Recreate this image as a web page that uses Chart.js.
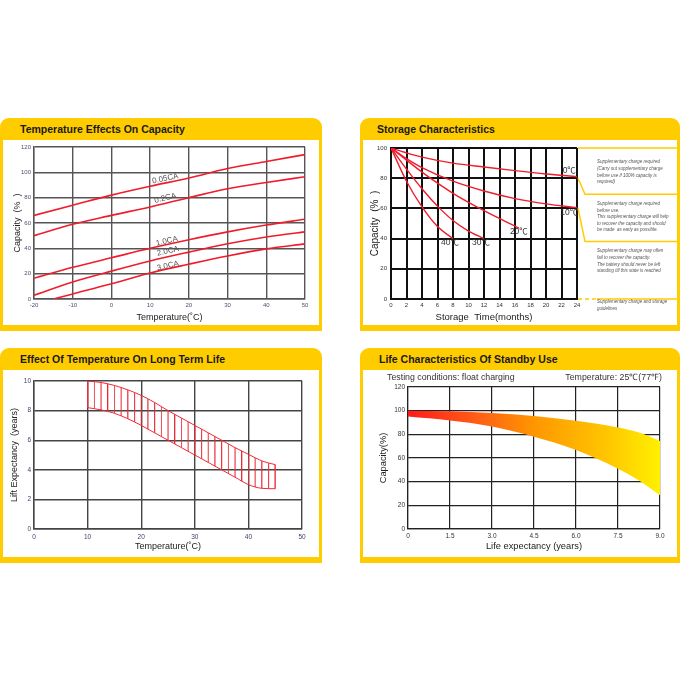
<!DOCTYPE html>
<html>
<head>
<meta charset="utf-8">
<script src="https://cdn.jsdelivr.net/npm/chart.js@4.4.1/dist/chart.umd.min.js"></script>
<style>
html, body { margin: 0; padding: 0; background: #fff; }
body { width: 680px; height: 680px; position: relative; overflow: hidden; font-family: "Liberation Sans", Arial, sans-serif; }
.panel { position: absolute; background: #FFCC00; border-radius: 9px 9px 0 0; }
.head { position: absolute; top: 0; height: 22px; line-height: 22px; font-weight: bold; font-size: 10.5px; color: #1a1a1a; white-space: nowrap; }
.box { position: absolute; left: 3px; top: 22px; background: #fff; }
.note { position: absolute; left: 597px; font-style: italic; font-size: 4.5px; line-height: 6.6px; color: #555; white-space: nowrap; }
.cond { position: absolute; top: 372px; font-size: 8.8px; line-height: 10px; color: #333; white-space: nowrap; }
</style>
</head>
<body>

<div class="panel" style="left:0;top:118px;width:322px;height:213px">
  <div class="head" style="left:20px">Temperature Effects On Capacity</div>
  <div class="box" style="width:316px;height:185px"><canvas id="chart-capacity"></canvas></div>
</div>

<div class="panel" style="left:360px;top:118px;width:320px;height:213px">
  <div class="head" style="left:17px">Storage Characteristics</div>
  <div class="box" style="width:314px;height:185px"><canvas id="chart-storage"></canvas></div>
</div>

<div class="panel" style="left:0;top:348px;width:322px;height:215px">
  <div class="head" style="left:20px">Effect Of Temperature On Long Term Life</div>
  <div class="box" style="width:316px;height:187px"><canvas id="chart-life"></canvas></div>
</div>

<div class="panel" style="left:360px;top:348px;width:320px;height:215px">
  <div class="head" style="left:19px">Life Characteristics Of Standby Use</div>
  <div class="box" style="width:314px;height:187px"><canvas id="chart-standby"></canvas></div>
</div>

<div class="note" style="top:159.4px">Supplementary charge required<br>(Carry out supplementary charge<br>before use if 100% capacity is<br>required)</div>
<div class="note" style="top:201px">Supplementary charge required<br>before use.<br>This supplementary charge will help<br>to recover the capacity and should<br>be made&nbsp; as early as possible.</div>
<div class="note" style="top:248.4px">Supplementary charge may often<br>fail to recover the capacity.<br>The battery should never be left<br>standing till this state is reached</div>
<div class="note" style="top:299.4px">Supplementary charge and storage<br>guidelines</div>

<div class="cond" style="left:387px">Testing conditions: float charging</div>
<div class="cond" style="right:18px">Temperature: 25℃(77℉)</div>

<script>
// Temperature Effects On Capacity
const tempX = [-20, -10, 0, 10, 20, 30, 40, 50];
const tempX3CA = [-15, -10, 0, 10, 20, 30, 40, 50];
const cap005CA = [66, 74, 82, 89, 95.5, 103, 108.6, 114];
const cap02CA = [50, 59, 66, 72.7, 80, 87, 92, 96.5];
const cap1CA = [16.4, 25, 32.5, 40, 46.8, 53, 58.4, 63];
const cap2CA = [3, 13.5, 22, 30, 37, 43.6, 49, 53];
const cap3CA = [0, 4, 12, 20.6, 27.5, 34, 39.6, 43.5];
const rateLabels = ['0.05CA', '0.2CA', '1.0CA', '2.0CA', '3.0CA'];
const rateLabelX = [13.9, 13.9, 14.3, 14.6, 14.6];
const rateLabelY = [95, 79.6, 45.7, 37.8, 26.2];

// Storage Characteristics
const months0C = [0, 2, 4, 8, 12, 16, 20, 24];
const cap0C = [100, 96.8, 94, 90, 87.4, 85, 82.8, 81];
const months10C = [0, 2, 4, 8, 12, 16, 20, 24];
const cap10C = [100, 93, 87, 78, 71.5, 66.5, 63, 60.5];
const months20C = [0, 2, 4, 8, 12, 16.5];
const cap20C = [100, 92, 84, 70, 58.5, 47];
const months30C = [0, 2, 4, 6, 8, 10, 12];
const cap30C = [100, 86, 73, 61.5, 52, 45, 40];
const months40C = [0, 2, 4, 6, 8];
const cap40C = [100, 78, 61, 48, 40];
const storeLabels = ['0℃', '10℃', '20℃', '30℃', '40℃'];
const storeLabelX = [23, 23, 16.5, 11.6, 7.6];
const storeLabelY = [84.8, 57, 44.6, 37, 37];

// Effect Of Temperature On Long Term Life
const lifeTemp = [10, 12.5, 15, 17.5, 20, 22.5, 25, 27.5, 30, 32.5, 35, 37.5, 40, 42.5, 45];
const lifeUpper = [10, 9.9, 9.7, 9.4, 9.03, 8.55, 8.0, 7.5, 7.0, 6.5, 6.0, 5.5, 5.05, 4.6, 4.35];
const lifeLower = [8.2, 8.05, 7.82, 7.45, 7.0, 6.5, 6.0, 5.5, 5.0, 4.5, 4.0, 3.5, 3.0, 2.75, 2.72];

// Life Characteristics Of Standby Use
const floatYears = [0, 1.5, 3, 4.5, 6, 7.5, 8.25, 9];
const floatUpper = [100, 99.6, 98, 95.4, 91.4, 85.8, 81.5, 74.4];
const floatLower = [95, 91.7, 86.6, 78, 66.8, 51, 41, 28.6];
const floatTicks = ['0', '1.5', '3.0', '4.5', '6.0', '7.5', '9.0'];

const FONT = '"Liberation Sans", Arial, sans-serif';
const RED = '#f01c2c';
Chart.defaults.font.family = FONT;
Chart.defaults.animation = false;

const pts = (xs, ys) => xs.map((x, i) => ({ x, y: ys[i] }));

function line(xs, ys, extra) {
    return Object.assign({
        data: pts(xs, ys),
        borderColor: RED,
        borderWidth: 1.6,
        pointRadius: 0,
        fill: false,
        cubicInterpolationMode: 'monotone'
    }, extra);
}

function axis(o) {
    return {
        type: 'linear',
        min: o.min,
        max: o.max,
        ticks: {
            stepSize: o.step,
            color: o.tickColor || '#333',
            font: { size: o.tickSize || 6 },
            padding: o.tickPad,
            autoSkip: false,
            maxRotation: 0,
            callback: o.callback
        },
        grid: { color: o.grid, lineWidth: o.gridWidth, drawTicks: false },
        border: { color: o.grid, width: o.gridWidth },
        title: {
            display: true,
            text: o.title,
            color: '#222',
            font: { size: o.titleSize || 9 },
            padding: o.titlePad
        },
        afterFit: s => {
            if (s.isHorizontal()) s.height = o.size;
            else s.width = o.size;
        }
    };
}

function baseOptions(padding, x, y) {
    return {
        responsive: true,
        maintainAspectRatio: false,
        layout: { padding },
        plugins: { legend: { display: false }, tooltip: { enabled: false } },
        scales: { x, y }
    };
}

// text along each capacity curve, rotated to the curve slope
const rateLabelPlugin = {
    id: 'rateLabels',
    afterDatasetsDraw(chart) {
        const { ctx, scales: { x, y } } = chart;
        ctx.save();
        ctx.font = '8px ' + FONT;
        ctx.fillStyle = '#555';
        ctx.textAlign = 'center';
        ctx.textBaseline = 'middle';
        rateLabels.forEach((t, i) => {
            const p = chart.getDatasetMeta(i).data;
            const a = Math.atan2(p[4].y - p[3].y, p[4].x - p[3].x);
            ctx.save();
            ctx.translate(x.getPixelForValue(rateLabelX[i]), y.getPixelForValue(rateLabelY[i]));
            ctx.rotate(a);
            ctx.fillText(t, 0, 0);
            ctx.restore();
        });
        ctx.restore();
    }
};

const storeLabelPlugin = {
    id: 'storeLabels',
    afterDatasetsDraw(chart) {
        const { ctx, scales: { x, y } } = chart;
        ctx.save();
        ctx.font = '8.5px ' + FONT + ', "Noto Sans CJK SC"';
        ctx.fillStyle = '#333';
        ctx.textAlign = 'center';
        ctx.textBaseline = 'middle';
        storeLabels.forEach((t, i) => {
            ctx.fillText(t, x.getPixelForValue(storeLabelX[i]), y.getPixelForValue(storeLabelY[i]));
        });
        ctx.restore();
    }
};

// yellow guide lines leading to the notes on the right
const guidePlugin = {
    id: 'guides',
    afterDraw(chart) {
        const { ctx, chartArea: a, scales: { y } } = chart;
        const w = chart.width;
        const y100 = y.getPixelForValue(100), y80 = y.getPixelForValue(80);
        const y60 = y.getPixelForValue(60), y0 = y.getPixelForValue(0);
        ctx.save();
        ctx.strokeStyle = '#FFCC00';
        ctx.lineWidth = 1.5;
        ctx.beginPath();
        ctx.moveTo(a.right + 1, y100); ctx.lineTo(w, y100);
        ctx.moveTo(a.right + 1, y80); ctx.lineTo(a.right + 8, y80 + 16); ctx.lineTo(w, y80 + 16);
        ctx.moveTo(a.right + 1, y60); ctx.lineTo(a.right + 8, y60 + 33); ctx.lineTo(w, y60 + 33);
        ctx.moveTo(a.right + 20, y0); ctx.lineTo(w, y0);
        ctx.stroke();
        ctx.setLineDash([4, 3]);
        ctx.beginPath();
        ctx.moveTo(a.right + 1, y0); ctx.lineTo(a.right + 20, y0);
        ctx.stroke();
        ctx.restore();
    }
};

// vertical hatching between the two life bounds
function hatch(chart) {
    const xs = chart.scales.x;
    if (!chart.chartArea || !xs) return 'rgba(0,0,0,0)';
    const x0 = xs.getPixelForValue(lifeTemp[0]);
    const x1 = xs.getPixelForValue(lifeTemp[lifeTemp.length - 1]);
    const step = (x1 - x0) / 28;
    const tile = document.createElement('canvas');
    tile.width = 10;
    tile.height = 10;
    const t = tile.getContext('2d');
    t.fillStyle = '#ec2a36';
    t.fillRect(0, 0, 1.6, 10);
    const pattern = chart.ctx.createPattern(tile, 'repeat');
    const s = step / 10;
    pattern.setTransform(new DOMMatrix().translateSelf(x0 - 0.8 * s, 0).scaleSelf(s, 1));
    return pattern;
}

function warmGradient(chart) {
    const xs = chart.scales.x;
    if (!chart.chartArea || !xs) return '#ff9900';
    const g = chart.ctx.createLinearGradient(
        xs.getPixelForValue(floatYears[0]), 0,
        xs.getPixelForValue(floatYears[floatYears.length - 1]), 0);
    g.addColorStop(0, '#ff1a1a');
    g.addColorStop(0.3, '#ff6414');
    g.addColorStop(0.5, '#ff9600');
    g.addColorStop(0.8, '#ffc800');
    g.addColorStop(1, '#fff000');
    return g;
}

new Chart(document.getElementById('chart-capacity'), {
    type: 'line',
    data: {
        datasets: [
            line(tempX, cap005CA),
            line(tempX, cap02CA),
            line(tempX, cap1CA),
            line(tempX, cap2CA),
            line(tempX3CA, cap3CA)
        ]
    },
    options: baseOptions({ top: 7, right: 14, left: 0, bottom: 0 },
        axis({ min: -20, max: 50, step: 10, grid: '#555', gridWidth: 1.4, tickColor: '#4a5070',
            tickPad: 3, title: 'Temperature(˚C)', titlePad: { top: 0, bottom: 2 }, size: 26 }),
        axis({ min: 0, max: 120, step: 20, grid: '#555', gridWidth: 1.4, tickColor: '#4a5070',
            tickPad: 3, title: 'Capacity  (%  )', titlePad: { top: 9, bottom: 0 }, size: 31 })),
    plugins: [rateLabelPlugin]
});

new Chart(document.getElementById('chart-storage'), {
    type: 'line',
    data: {
        datasets: [
            line(months0C, cap0C, { borderWidth: 1.4 }),
            line(months10C, cap10C, { borderWidth: 1.4 }),
            line(months20C, cap20C, { borderWidth: 1.4 }),
            line(months30C, cap30C, { borderWidth: 1.4 }),
            line(months40C, cap40C, { borderWidth: 1.4 })
        ]
    },
    options: baseOptions({ top: 8, right: 100, left: 0, bottom: 0 },
        axis({ min: 0, max: 24, step: 2, grid: '#111', gridWidth: 2, tickPad: 3,
            title: 'Storage  Time(months)', titleSize: 9.5, titlePad: { top: 0, bottom: 2 }, size: 26 }),
        axis({ min: 0, max: 100, step: 20, grid: '#111', gridWidth: 2, tickPad: 4,
            title: 'Capacity  (%  )', titleSize: 10, titlePad: { top: 6, bottom: 0 }, size: 28 })),
    plugins: [storeLabelPlugin, guidePlugin]
});

new Chart(document.getElementById('chart-life'), {
    type: 'line',
    data: {
        datasets: [
            line(lifeTemp, lifeUpper, { borderWidth: 1, borderColor: '#ee2a36', fill: '+1',
                backgroundColor: c => hatch(c.chart) }),
            line(lifeTemp, lifeLower, { borderWidth: 1, borderColor: '#ee2a36' }),
            line([10, 10], [lifeUpper[0], lifeLower[0]], { borderWidth: 1.2, borderColor: '#ee2a36' }),
            line([45, 45], [lifeUpper[14], lifeLower[14]], { borderWidth: 1.2, borderColor: '#ee2a36' })
        ]
    },
    options: baseOptions({ top: 11, right: 17, left: 0, bottom: 0 },
        axis({ min: 0, max: 50, step: 10, grid: '#444', gridWidth: 1.4, tickColor: '#3a4468',
            tickSize: 6.5, tickPad: 4, title: 'Temperature(˚C)', titlePad: { top: 0, bottom: 5 }, size: 28 }),
        axis({ min: 0, max: 10, step: 2, grid: '#444', gridWidth: 1.4, tickColor: '#3a4468',
            tickSize: 6.5, tickPad: 3, title: 'Lift Expectancy  (years)', titlePad: { top: 6, bottom: 0 }, size: 31 }))
});

new Chart(document.getElementById('chart-standby'), {
    type: 'line',
    data: {
        datasets: [
            line(floatYears, floatUpper, { borderWidth: 0, fill: '+1',
                backgroundColor: c => warmGradient(c.chart) }),
            line(floatYears, floatLower, { borderWidth: 0 })
        ]
    },
    options: baseOptions({ top: 17, right: 17, left: 0, bottom: 0 },
        axis({ min: 0, max: 9, step: 1.5, grid: '#222', gridWidth: 1.2, tickSize: 6.5, tickPad: 3,
            callback: (v, i) => floatTicks[i],
            title: 'Life expectancy (years)', titleSize: 9.3, titlePad: { top: 0, bottom: 5 }, size: 28 }),
        axis({ min: 0, max: 120, step: 20, grid: '#222', gridWidth: 1.2, tickSize: 6.5, tickPad: 3,
            title: 'Capacity(%)', titleSize: 9.3, titlePad: { top: 15, bottom: 0 }, size: 45 }))
});
</script>
</body>
</html>
